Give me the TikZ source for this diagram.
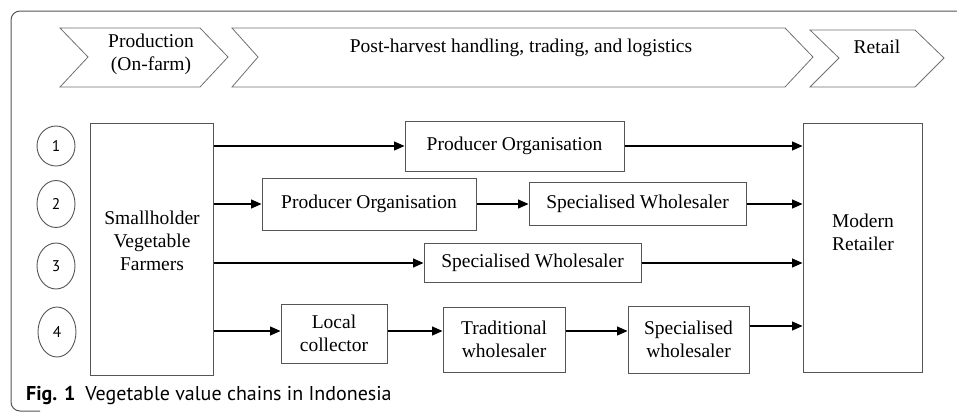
\documentclass[tikz,border=0pt]{standalone}
\usepackage{fontspec}
\setmainfont{Liberation Serif}
\newfontfamily\capfont{PT Sans}
\usetikzlibrary{arrows.meta,calc,shapes.geometric}
\definecolor{boxgray}{HTML}{555555}
\definecolor{chevgray}{HTML}{707070}
\tikzset{
  chev/.style={draw=chevgray, line width=0.8pt, line join=miter},
  stagebox/.style={draw=boxgray, line width=1pt, rectangle, inner sep=0pt, align=center, font=\fontsize{19.5}{23}\selectfont},
  numcirc/.style={draw=boxgray, line width=0.9pt, ellipse, inner sep=0pt, font=\capfont\fontsize{15.5}{15.5}\selectfont},
  lbl/.style={inner sep=0pt, align=center, font=\fontsize{19.5}{23}\selectfont},
  arr/.style={draw=black, line width=1.3pt, -{Triangle[length=10.5pt,width=9pt]}},
}
\begin{document}
\begin{tikzpicture}[x=1pt,y=-1pt]
\useasboundingbox (0,0) rectangle (957,413);
% outer frame
\draw[draw=boxgray, line width=1pt, rounded corners=9pt] (960,11) -- (11,11) -- (11,411) -- (40,411);
% chevrons
\draw[chev] (60,28) -- (200,28) -- (228,57) -- (200,87) -- (60,87) -- (88,57) -- cycle;
\draw[chev] (232,28) -- (785,28) -- (813,57) -- (785,87) -- (232,87) -- (258,57) -- cycle;
\draw[chev] (810,30) -- (915,30) -- (944,58) -- (915,87) -- (810,87) -- (839,58) -- cycle;
\node[lbl] (st1) at (151,54) {Production\\(On-farm)};
\node[lbl] (st2) at (521,48) {Post-harvest handling, trading, and logistics};
\node[lbl] (st3) at (877,47) {Retail};
% number circles
\node[numcirc, minimum width=38pt, minimum height=40pt] (c1) at (56,146) {1};
\node[numcirc, minimum width=38pt, minimum height=47pt] (c2) at (56,204) {2};
\node[numcirc, minimum width=38pt, minimum height=46pt] (c3) at (56,266) {3};
\node[numcirc, minimum width=38pt, minimum height=50pt] (c4) at (57,332) {4};
% main boxes
\node[stagebox, minimum width=123pt, minimum height=252pt] (sf) at (151.5,249) {};
\node[lbl] (sft) at (152,241) {Smallholder\\Vegetable\\Farmers};
\node[stagebox, minimum width=119pt, minimum height=249pt] (mr) at (862.5,247.5) {};
\node[lbl] (mrt) at (863,232) {Modern\\Retailer};
% row 1
\node[stagebox, minimum width=219pt, minimum height=50pt] (po1) at (514.5,146) {Producer Organisation};
% row 2
\node[stagebox, minimum width=214pt, minimum height=52pt] (po2) at (369,204) {Producer Organisation};
\node[stagebox, minimum width=217pt, minimum height=43pt] (sw2) at (637.5,204) {Specialised Wholesaler};
% row 3
\node[stagebox, minimum width=217pt, minimum height=39pt] (sw3) at (532.5,263) {Specialised Wholesaler};
% row 4
\node[stagebox, minimum width=106pt, minimum height=59pt] (lc) at (334,333.5) {Local\\collector};
\node[stagebox, minimum width=122pt, minimum height=65pt] (tw) at (504,339.5) {Traditional\\wholesaler};
\node[stagebox, minimum width=121pt, minimum height=67pt] (sw4) at (688.5,339.5) {Specialised\\wholesaler};
% arrows
\draw[arr] (sf.east |- po1.west) -- (po1.west);
\draw[arr] (po1.east) -- (po1.east -| mr.west);
\draw[arr] (sf.east |- po2.west) -- (po2.west);
\draw[arr] (po2.east) -- (sw2.west);
\draw[arr] (sw2.east) -- (sw2.east -| mr.west);
\draw[arr] (sf.east |- sw3.west) -- (sw3.west);
\draw[arr] (sw3.east) -- (sw3.east -| mr.west);
\coordinate (r4) at (0,331);
\draw[arr] (sf.east |- r4) -- (lc.west |- r4);
\draw[arr] (lc.east |- r4) -- (tw.west |- r4);
\draw[arr] (tw.east |- r4) -- (sw4.west |- r4);
\coordinate (r4b) at (0,326);
\draw[arr] (sw4.east |- r4b) -- (mr.west |- r4b);
% caption
\node[anchor=west, inner sep=0pt, font=\capfont\fontsize{20}{22}\selectfont] (cap) at (26,395) {\textbf{Fig. 1}\hspace{0.5em}Vegetable value chains in Indonesia};
\end{tikzpicture}
\end{document}
